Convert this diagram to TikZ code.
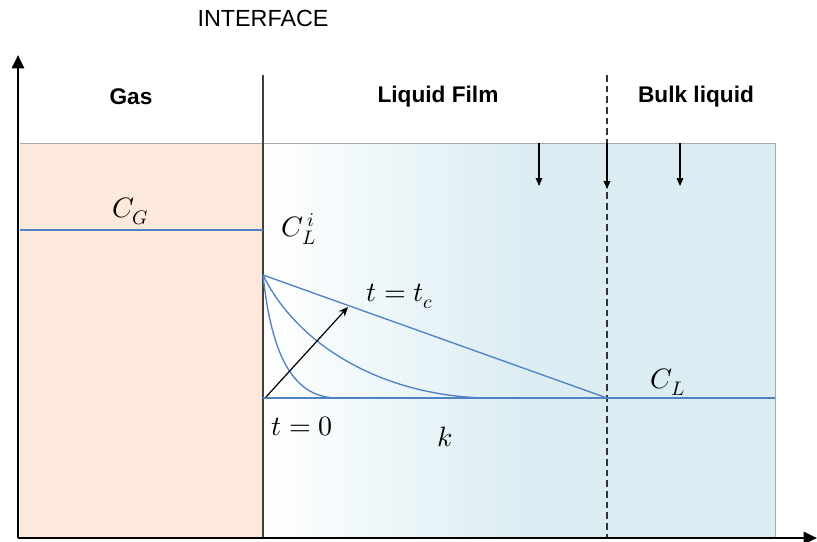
\documentclass[tikz,border=0pt]{standalone}
\usepackage{fontspec}
\setmainfont{Liberation Sans}
\usepackage{unicode-math}
\usetikzlibrary{arrows.meta}
\definecolor{gasfill}{HTML}{FCE9DB}
\definecolor{liqfill}{HTML}{DBEDF3}
\definecolor{profblue}{HTML}{4F81C4}
\definecolor{edgegray}{HTML}{A8A8A8}

\begin{document}
\begin{tikzpicture}[
  x=0.75pt, y=-0.75pt,
  font=\fontsize{17.5}{20}\selectfont,
  head/.style={font=\fontsize{17}{20}\selectfont\bfseries},
  lab/.style={font=\fontsize{21}{24}\selectfont, inner sep=1pt},
  prof/.style={profblue, line width=1pt},
  axis/.style={line width=2pt, -{Triangle[length=10pt,width=9pt]}},
  arr/.style={-{Triangle[length=6pt,width=5pt]}, line width=0.8pt}
]
\useasboundingbox (0,0) rectangle (817,542);
% regions
\fill[gasfill] (20,143) rectangle (263,537);
\shade[left color=white, right color=liqfill] (263,143) rectangle (520,537);
\fill[liqfill] (520,143) rectangle (775,537);
\draw[edgegray] (20,143) -- (775,143) -- (775,537);
% interfaces
\coordinate (ifTop) at (263,75);
\coordinate (ifBot) at (263,537);
\coordinate (dsTop) at (607,75);
\coordinate (dsBot) at (607,537);
\draw[black!75, line width=0.9pt] (ifTop) -- (ifBot);
\draw[black!80, dashed, line width=0.8pt, dash pattern=on 5pt off 3pt] (dsTop) -- (dsBot);
% headings
\node (iface) at (263,18) {INTERFACE};
\node[head] (gas) at (131,97) {Gas};
\node[head] (film) at (438,97) {Liquid Film};
\node[head] (bulk) at (696,97) {Bulk liquid};
% axes
\coordinate (org) at (18,538);
\coordinate (yEnd) at (18,55);
\coordinate (xEnd) at (817,538);
\draw[axis] (org) -- (yEnd);
\draw[axis] (org) -- (xEnd);
% down arrows
\foreach \xx/\yy in {539/186, 607/189, 680/186}
  \draw[arr] (\xx,143) -- (\xx,\yy);
% gas concentration
\coordinate (cgA) at (20,230);
\coordinate (cgB) at (263,230);
\draw[prof] (cgA) -- (cgB);
\node[lab] (cg) at (131,211) {$C_G$};
\node[lab] (cli) at (299,229) {$C_L^{\,i}$};
% profiles
\coordinate (p0) at (263,275);
\coordinate (base) at (263,398);
\coordinate (pEnd) at (607,398);
\coordinate (bEnd) at (775,398);
\draw[prof, line width=1.3pt] (base) -- (bEnd);
\draw[prof] (p0) -- (pEnd);
\draw[prof] (p0) .. controls (272,360) and (295,398) .. (338,398);
\draw[prof] (p0) .. controls (300,350) and (390,398) .. (492,398);
% time arrow
\coordinate (tA) at (266,397);
\coordinate (tB) at (348,307);
\draw[-{Stealth[length=7pt,width=6pt]}, line width=0.9pt] (tA) -- (tB);
\node[lab] (ttc) at (400,296) {$t = t_c$};
\node[lab] (t0) at (302,426) {$t = 0$};
\node[lab] (kk) at (445,437) {$k$};
\node[lab] (cl) at (668,382) {$C_L$};
\end{tikzpicture}
\end{document}
